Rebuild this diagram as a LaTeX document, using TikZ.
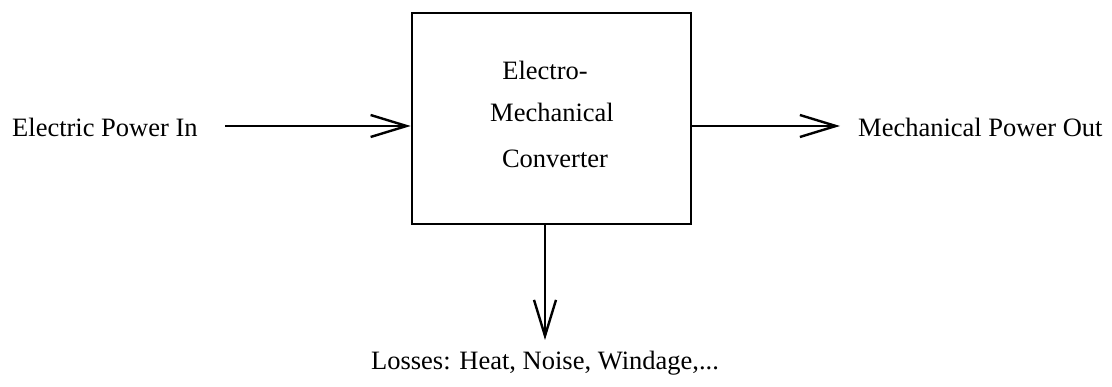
\documentclass[tikz,border=0pt]{standalone}
\usepackage{fontspec}
\setmainfont{Liberation Serif}
\usetikzlibrary{arrows.meta}
\begin{document}
\begin{tikzpicture}[x=1pt,y=-1pt,
  lbl/.style={inner sep=0pt,font=\fontsize{26.5}{30}\selectfont},
  conv/.style={draw,line width=2.6pt,minimum width=279pt,minimum height=211pt,inner sep=0pt},
  arr/.style={line width=2.4pt,-{Straight Barb[length=36pt,width=22pt,line width=2.4pt]}}]
\useasboundingbox (0,0) rectangle (1112,387);
\node[conv] (box) at (551.5,118.5) {};
\node[lbl,anchor=base] (t1) at (545,80) {Electro-};
\node[lbl,anchor=base] (t2) at (552,122) {Mechanical};
\node[lbl,anchor=base] (t3) at (555,168) {Converter};
\node[lbl,anchor=base west] (in) at (12,137) {Electric Power In};
\node[lbl,anchor=base west] (out) at (858,137) {Mechanical Power Out};
\node[lbl,anchor=base] (loss) at (545,370) {Losses: Heat, Noise, Windage,...};
\coordinate (inarr) at (225,126);
\coordinate (outarr) at (840,126);
\coordinate (lossarr) at (545,340);
\draw[arr] (inarr) -- (inarr -| box.west);
\draw[arr] (outarr -| box.east) -- (outarr);
\draw[arr] (lossarr |- box.south) -- (lossarr);
\end{tikzpicture}
\end{document}
